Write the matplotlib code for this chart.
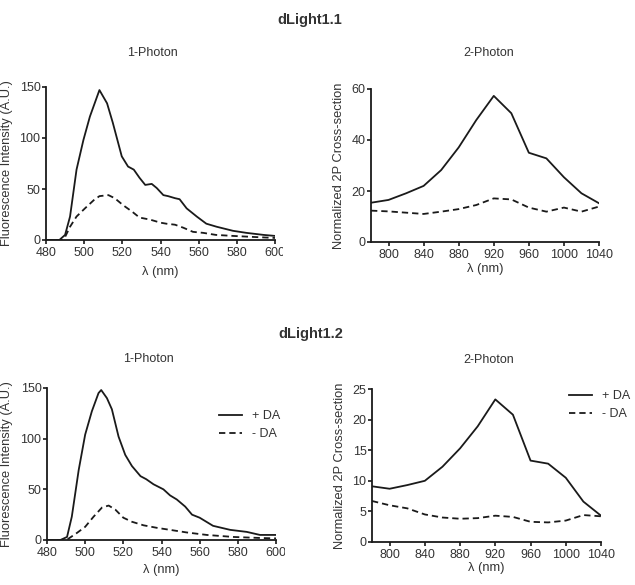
import matplotlib
matplotlib.use("Agg")
import matplotlib.pyplot as plt
from matplotlib.transforms import Bbox, TransformedBbox

plt.rcParams['font.family'] = ['Liberation Sans', 'DejaVu Sans']

# ---------------- data ----------------
# dLight1.1, 1-photon
p1_x_plus_11 = [480, 487, 490, 492.6, 496, 499.6, 503, 508, 512, 515, 519.7, 523, 526, 529, 532,
                535.4, 538, 541.5, 544, 547.6, 550, 553.7, 559, 564, 569.4, 578, 585, 594, 600]
p1_y_plus_11 = [0, 0, 5, 23, 69, 98, 121, 147, 134, 115, 82, 72, 69, 61, 54,
                55, 51, 44, 43, 41, 40, 31, 23, 16, 13, 9, 7, 5, 4]
p1_x_minus_11 = [480, 488, 490, 492.6, 496, 500.4, 505, 508, 512.7, 516, 520.5, 525, 529, 534.5,
                 540, 543, 547.6, 552, 557, 562.4, 569, 578, 588.6, 600]
p1_y_minus_11 = [0, 0, 3, 13, 23, 31, 39, 43, 44, 41, 34, 28, 22, 20,
                 17, 16, 15, 12, 8, 7, 5, 4, 3, 2]

# 2-photon wavelengths
p2_x = [780, 800, 820, 840, 860, 880, 900, 920, 940, 960, 980, 1000, 1020, 1040]
p2_plus_11 = [15.4, 16.5, 19.1, 22.0, 28.2, 37.1, 47.8, 57.3, 50.5, 35.0, 32.8, 25.4, 19.1, 15.2]
p2_minus_11 = [12.3, 12.0, 11.5, 11.0, 11.9, 12.9, 14.5, 17.1, 16.7, 13.5, 11.9, 13.5, 11.9, 13.9]

# dLight1.2, 1-photon
p1_x_plus_12 = [480, 487, 490.5, 493, 496.6, 500, 503.5, 507, 508.4, 511.4, 514, 517.5, 521, 524.5,
                529, 532, 535.8, 541, 544.5, 548, 552.4, 556, 560, 567, 576, 584.7, 591.6, 600]
p1_y_plus_12 = [0, 0, 3, 23, 69, 104, 127, 145, 148, 140, 129, 102, 84, 73,
                63, 60, 55, 50, 44, 40, 33, 25, 22, 14, 10, 8, 5, 5]
p1_x_minus_12 = [480, 489, 491, 495.7, 500, 504.4, 508.8, 512.3, 515.8, 520, 524.5, 530.6, 537.6,
                 544.5, 553, 563.7, 577.7, 591.6, 600]
p1_y_minus_12 = [0, 0, 1, 7, 13, 23, 32, 34, 30, 22, 18, 14.5, 12,
                 10, 7.5, 5, 3, 2, 1.6]

# dLight1.2, 2-photon
p2_plus_12 = [9.1, 8.7, 9.3, 10.0, 12.3, 15.3, 18.9, 23.3, 20.8, 13.3, 12.8, 10.5, 6.6, 4.3]
p2_minus_12 = [6.7, 6.0, 5.5, 4.5, 4.0, 3.8, 3.9, 4.3, 4.1, 3.3, 3.2, 3.5, 4.4, 4.2]

x1_ticks = [480, 500, 520, 540, 560, 580, 600]
x2_ticks = [800, 840, 880, 920, 960, 1000, 1040]
y1_ticks = [0, 50, 100, 150]
y2_ticks_11 = [0, 20, 40, 60]
y2_ticks_12 = [0, 5, 10, 15, 20, 25]
labels = ["+ DA", "- DA"]

# ---------------- style ----------------
W, H = 635, 585
fig = plt.figure(figsize=(W / 100, H / 100), dpi=100)
TXT = '#333333'
LC = '#1a1a1a'
FS = 9
DASH = (0, (3.5, 2.2))
LW = 1.3


def px_axes(x0, x1, ytop, ybot):
    return fig.add_axes([x0 / W, 1 - ybot / H, (x1 - x0) / W, (ybot - ytop) / H])


def style(ax, xlim, ylim, xt, yt, ylab, ylx, xly):
    ax.set_xlim(*xlim)
    ax.set_ylim(*ylim)
    ax.set_xticks(xt)
    ax.set_yticks(yt)
    for s in ['top', 'right']:
        ax.spines[s].set_visible(False)
    for s in ['left', 'bottom']:
        ax.spines[s].set_linewidth(1.3)
        ax.spines[s].set_color(LC)
    ax.tick_params(direction='out', length=3, width=1.2, color=LC,
                   labelsize=FS, labelcolor=TXT)
    ax.tick_params(axis='x', pad=2)
    ax.tick_params(axis='y', pad=1)
    ax.set_xlabel("λ (nm)", fontsize=9.3, color=TXT)
    ax.set_ylabel(ylab, fontsize=9.3, color=TXT)
    ax.yaxis.set_label_coords(ylx, 0.5)
    ax.xaxis.set_label_coords(0.5, xly)
    ax.patch.set_visible(False)


# top-left
ax1 = px_axes(46, 275, 87, 240)
ax1.plot(p1_x_plus_11, p1_y_plus_11, color=LC, lw=LW)
ax1.plot(p1_x_minus_11, p1_y_minus_11, color=LC, lw=LW, linestyle=DASH)
style(ax1, (480, 600), (0, 150), x1_ticks, y1_ticks, "Fluorescence Intensity (A.U.)", -0.145, -0.17)

# top-right
ax2 = px_axes(371, 599, 89, 242)
ax2.plot(p2_x, p2_plus_11, color=LC, lw=LW)
ax2.plot(p2_x, p2_minus_11, color=LC, lw=LW, linestyle=DASH)
style(ax2, (780, 1040), (0, 60), x2_ticks, y2_ticks_11, "Normalized 2P Cross-section", -0.112, -0.14)

# bottom-left
ax3 = px_axes(47, 276, 388, 540)
ax3.plot(p1_x_plus_12, p1_y_plus_12, color=LC, lw=LW, label=labels[0])
ax3.plot(p1_x_minus_12, p1_y_minus_12, color=LC, lw=LW, linestyle=DASH, label=labels[1])
style(ax3, (480, 600), (0, 150), x1_ticks, y1_ticks, "Fluorescence Intensity (A.U.)", -0.148, -0.155)

# bottom-right
ax4 = px_axes(372, 601, 389, 542)
ax4.plot(p2_x, p2_plus_12, color=LC, lw=LW, label=labels[0])
ax4.plot(p2_x, p2_minus_12, color=LC, lw=LW, linestyle=DASH, label=labels[1])
style(ax4, (780, 1040), (0, 25), x2_ticks, y2_ticks_12, "Normalized 2P Cross-section", -0.115, -0.13)


def add_legend(ax, x, y):
    leg = ax.legend(loc='upper left', bbox_to_anchor=(x / W, 1 - y / H),
                    bbox_transform=fig.transFigure, frameon=False, fontsize=FS,
                    handlelength=1.8, handletextpad=0.8, labelspacing=0.5,
                    borderpad=0, borderaxespad=0)
    for t in leg.get_texts():
        t.set_color(TXT)


add_legend(ax3, 219, 410)
add_legend(ax4, 569, 390)

# titles
fig.text(310 / W, 1 - 20 / H, "dLight1.1", ha='center', va='center', fontsize=10.5,
         fontweight='bold', color=TXT)
fig.text(311 / W, 1 - 334 / H, "dLight1.2", ha='center', va='center', fontsize=10.5,
         fontweight='bold', color=TXT)
fig.text(152 / W, 1 - 53 / H, "1-Photon", ha='center', va='center', fontsize=FS, color=TXT)
fig.text(489 / W, 1 - 53 / H, "2-Photon", ha='center', va='center', fontsize=FS, color=TXT)
fig.text(148 / W, 1 - 359 / H, "1-Photon", ha='center', va='center', fontsize=FS, color=TXT)
fig.text(489 / W, 1 - 360 / H, "2-Photon", ha='center', va='center', fontsize=FS, color=TXT)

# the last x tick label of the 1-photon panels is cut off in the reference
for ax, xc in [(ax1, 283), (ax3, 285)]:
    lbl = ax.xaxis.get_major_ticks()[-1].label1
    lbl.set_clip_box(TransformedBbox(Bbox.from_extents(0, 0, xc / W, 1), fig.transFigure))
    lbl.set_clip_on(True)

fig.savefig("out.png", dpi=100, facecolor='white')
